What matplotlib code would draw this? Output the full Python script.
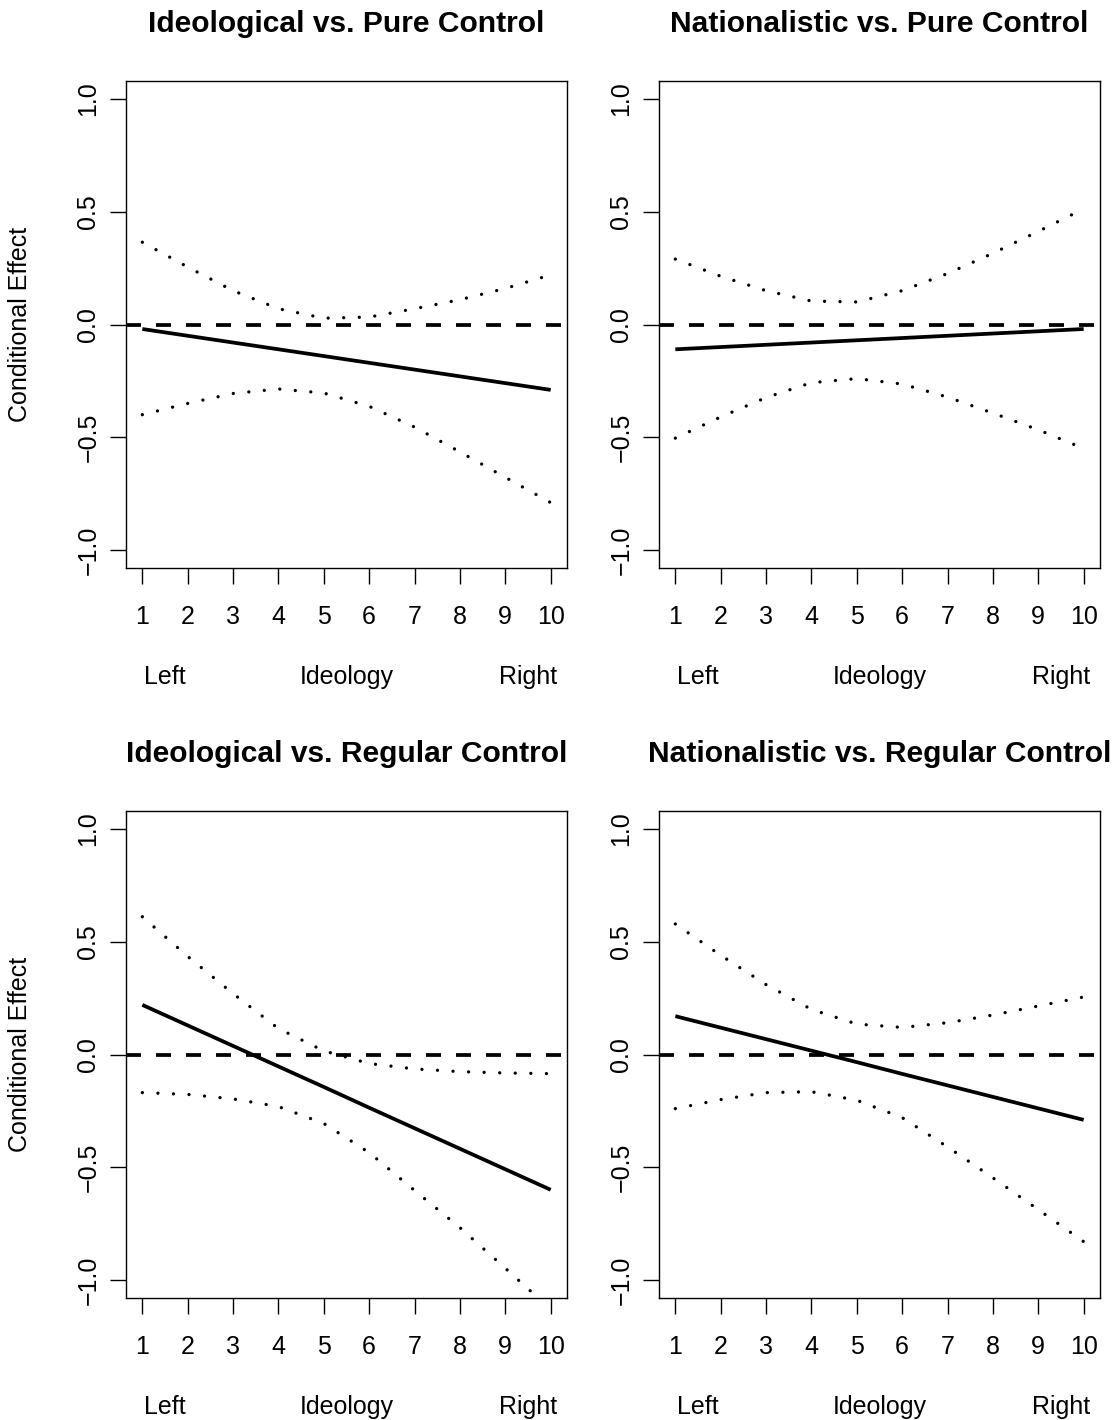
import matplotlib

matplotlib.use("Agg")

import matplotlib.pyplot as plt
import numpy as np

plt.rcParams["font.family"] = ["Liberation Sans", "DejaVu Sans"]
plt.rcParams["lines.scale_dashes"] = False

ideology = np.arange(1, 11)

titles = [
    "Ideological vs. Pure Control",
    "Nationalistic vs. Pure Control",
    "Ideological vs. Regular Control",
    "Nationalistic vs. Regular Control",
]

# conditional effect estimates and 95% bounds at ideology = 1..10
ideo_pure_est = [-0.02, -0.05, -0.08, -0.11, -0.14, -0.17, -0.20, -0.23, -0.26, -0.29]
ideo_pure_hi = [0.365, 0.255, 0.15, 0.07, 0.028, 0.033, 0.07, 0.11, 0.16, 0.22]
ideo_pure_lo = [-0.40, -0.35, -0.306, -0.286, -0.304, -0.363, -0.455, -0.565, -0.678, -0.79]

nat_pure_est = [-0.11, -0.10, -0.09, -0.08, -0.07, -0.06, -0.05, -0.04, -0.03, -0.02]
nat_pure_hi = [0.29, 0.214, 0.15, 0.104, 0.10, 0.15, 0.226, 0.316, 0.413, 0.513]
nat_pure_lo = [-0.504, -0.41, -0.324, -0.258, -0.24, -0.264, -0.322, -0.393, -0.467, -0.55]

ideo_reg_est = [0.22, 0.129, 0.038, -0.053, -0.144, -0.236, -0.327, -0.418, -0.509, -0.60]
ideo_reg_hi = [0.611, 0.435, 0.27, 0.115, 0.016, -0.04, -0.064, -0.076, -0.082, -0.085]
ideo_reg_lo = [-0.169, -0.177, -0.197, -0.231, -0.306, -0.435, -0.603, -0.768, -0.948, -1.13]

nat_reg_est = [0.17, 0.119, 0.068, 0.017, -0.034, -0.086, -0.137, -0.188, -0.239, -0.29]
nat_reg_hi = [0.579, 0.44, 0.31, 0.20, 0.135, 0.12, 0.141, 0.175, 0.215, 0.255]
nat_reg_lo = [-0.24, -0.20, -0.169, -0.165, -0.203, -0.28, -0.41, -0.547, -0.688, -0.83]

panels = [
    (ideo_pure_est, ideo_pure_hi, ideo_pure_lo),
    (nat_pure_est, nat_pure_hi, nat_pure_lo),
    (ideo_reg_est, ideo_reg_hi, ideo_reg_lo),
    (nat_reg_est, nat_reg_hi, nat_reg_lo),
]

y_ticks = [-1.0, -0.5, 0.0, 0.5, 1.0]
y_tick_labels = ["\u22121.0", "\u22120.5", "0.0", "0.5", "1.0"]

W, H = 1119, 1420
figure = plt.figure(figsize=(W / 100, H / 100), dpi=100)

# box positions in pixels: left, top
box_w, box_h = 441, 487
origins = [(126, 81), (659, 81), (126, 811), (659, 811)]

for index, ((left, top), title, (est, hi, lo)) in enumerate(zip(origins, titles, panels)):
    axis = figure.add_axes([left / W, 1 - (top + box_h) / H, box_w / W, box_h / H])
    axis.set_xlim(0.64, 10.36)
    axis.set_ylim(-1.08, 1.08)

    axis.axhline(0, color="black", lw=2.7, dashes=(10.8, 10.8), dash_capstyle="butt")
    axis.plot(ideology, est, color="black", lw=2.7, solid_capstyle="butt")
    for bound in (hi, lo):
        axis.plot(ideology, bound, color="black", lw=2.4,
                  dashes=(0.01, 11.2), dash_capstyle="round")

    for spine in axis.spines.values():
        spine.set_linewidth(1.0)
    axis.set_xticks(ideology)
    axis.set_xticklabels([str(v) for v in ideology], fontsize=18)
    axis.set_yticks(y_ticks)
    axis.set_yticklabels(y_tick_labels, fontsize=18, rotation=90, va="center")
    axis.tick_params(axis="both", direction="out", length=11.5, width=1.0)
    axis.tick_params(axis="x", pad=15)
    axis.tick_params(axis="y", pad=7)

    axis.text(0.5, 1 + 57 / box_h, title, transform=axis.transAxes,
              ha="center", va="center", fontsize=21.6, fontweight="bold")

    label_y = -109 / box_h
    axis.text(39 / box_w, label_y, "Left", transform=axis.transAxes,
              ha="center", va="center", fontsize=18)
    axis.text(221 / box_w, label_y, "Ideology", transform=axis.transAxes,
              ha="center", va="center", fontsize=18)
    axis.text(402 / box_w, label_y, "Right", transform=axis.transAxes,
              ha="center", va="center", fontsize=18)

    if index % 2 == 0:
        figure.text(20 / W, 1 - (top + box_h / 2) / H, "Conditional Effect",
                    rotation=90, ha="center", va="center", fontsize=18)

figure.savefig("out.png", dpi=100)
plt.close(figure)
